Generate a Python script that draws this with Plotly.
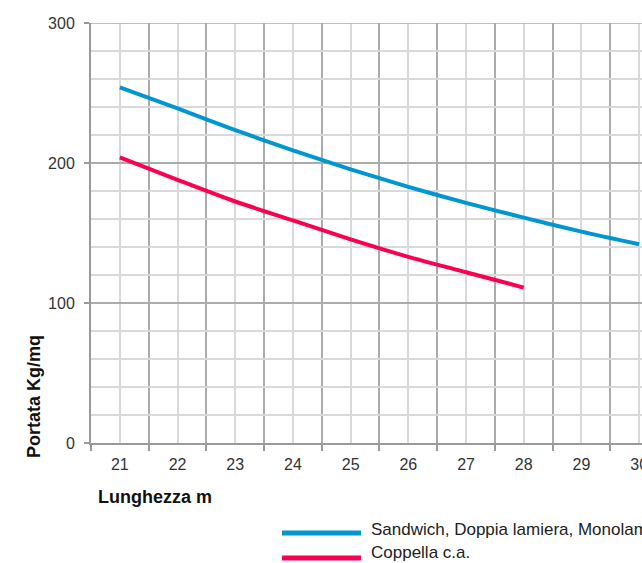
import plotly.graph_objects as go

# Data
lunghezza = [21, 22, 23, 24, 25, 26, 27, 28, 29, 30]
sandwich = [254, 239, 223.5, 209, 195.5, 183, 171.5, 161, 151, 142]
lunghezza_coppella = [21, 22, 23, 24, 25, 26, 27, 28]
coppella = [204, 188, 172.5, 159, 145.5, 133, 122, 111]

x_tick_labels = ["21", "22", "23", "24", "25", "26", "27", "28", "29", "30"]
y_ticks = [0, 100, 200, 300]
series_names = ["Sandwich, Doppia lamiera, Monolamiera", "Coppella c.a."]

BLUE = "#0096CF"
RED = "#FA0050"
FONT = "Liberation Sans, Arial, Helvetica, sans-serif"
DARK_GRID = "#ABABAB"
LIGHT_GRID = "#D9D9D9"
AXIS_GRAY = "#9A9A9A"

W, H = 642, 563

fig = go.Figure()
fig.add_trace(go.Scatter(x=lunghezza, y=sandwich, mode="lines", name=series_names[0],
                         line=dict(color=BLUE, width=4, shape="spline", smoothing=0.7),
                         showlegend=False))
fig.add_trace(go.Scatter(x=lunghezza_coppella, y=coppella, mode="lines", name=series_names[1],
                         line=dict(color=RED, width=4, shape="spline", smoothing=0.7),
                         showlegend=False))

half_steps = [v - 0.5 for v in lunghezza] + [lunghezza[-1] + 0.5]

fig.update_layout(
    width=W, height=H,
    margin=dict(l=91, r=0, t=23, b=120),
    paper_bgcolor="white", plot_bgcolor="white",
    font=dict(family=FONT, size=16, color="#333333"),
    xaxis=dict(
        range=[20.5, 30.05],
        automargin=False,
        tickmode="array", tickvals=lunghezza, ticktext=x_tick_labels,
        ticks="", showgrid=True, gridcolor=LIGHT_GRID, gridwidth=1.5,
        showline=True, linecolor=AXIS_GRAY, linewidth=2, mirror=False,
        zeroline=False,
        ticklabelstandoff=6,
        ticklabeloverflow="allow",
        minor=dict(tickmode="array", tickvals=half_steps, ticks="outside", ticklen=6,
                   tickcolor=AXIS_GRAY, tickwidth=1.5, showgrid=True,
                   gridcolor=DARK_GRID, gridwidth=1.5),
        tickfont=dict(size=16, color="#333333"),
    ),
    yaxis=dict(
        range=[0, 300],
        automargin=False,
        tickmode="array", tickvals=y_ticks,
        ticks="outside", ticklen=5, tickcolor=AXIS_GRAY, tickwidth=1.5,
        showgrid=True, gridcolor=DARK_GRID, gridwidth=1.5,
        showline=True, linecolor=AXIS_GRAY, linewidth=2,
        zeroline=False,
        ticklabelstandoff=6,
        minor=dict(dtick=20, showgrid=True, gridcolor=LIGHT_GRID, gridwidth=1.5, ticks=""),
        tickfont=dict(size=16, color="#333333"),
    ),
)

# top border of plot area
fig.add_shape(type="line", xref="paper", yref="y", x0=0, x1=1, y0=300, y1=300,
              line=dict(color=DARK_GRID, width=1.5))

# axis titles
fig.add_annotation(text="<b>Lunghezza m</b>", xref="paper", yref="paper",
                   x=0.009, y=-0.1286, xanchor="left", yanchor="middle", showarrow=False,
                   font=dict(family=FONT, size=18, color="#111111"))
fig.add_annotation(text="<b>Portata Kg/mq</b>", xref="paper", yref="paper",
                   x=-0.1034, y=0.1095, xanchor="center", yanchor="middle", showarrow=False,
                   textangle=-90, font=dict(family=FONT, size=18, color="#111111"))

# legend (long line samples like the reference)
for name, color, yl, yt in [(series_names[0], BLUE, -0.2143, -0.2048),
                            (series_names[1], RED, -0.2738, -0.2619)]:
    fig.add_shape(type="line", xref="paper", yref="paper", x0=0.3466, x1=0.49, y0=yl, y1=yl,
                  line=dict(color=color, width=5))
    fig.add_annotation(text=name, xref="paper", yref="paper", x=0.5045, y=yt,
                       xanchor="left", yanchor="middle", showarrow=False,
                       font=dict(family=FONT, size=17, color="#222222"))

fig.write_html(
    "out.html",
    config={"displayModeBar": False},
    post_script="document.body.style.margin='0';"
                "document.body.style.overflow='hidden';"
                "document.documentElement.style.overflow='hidden';",
)
